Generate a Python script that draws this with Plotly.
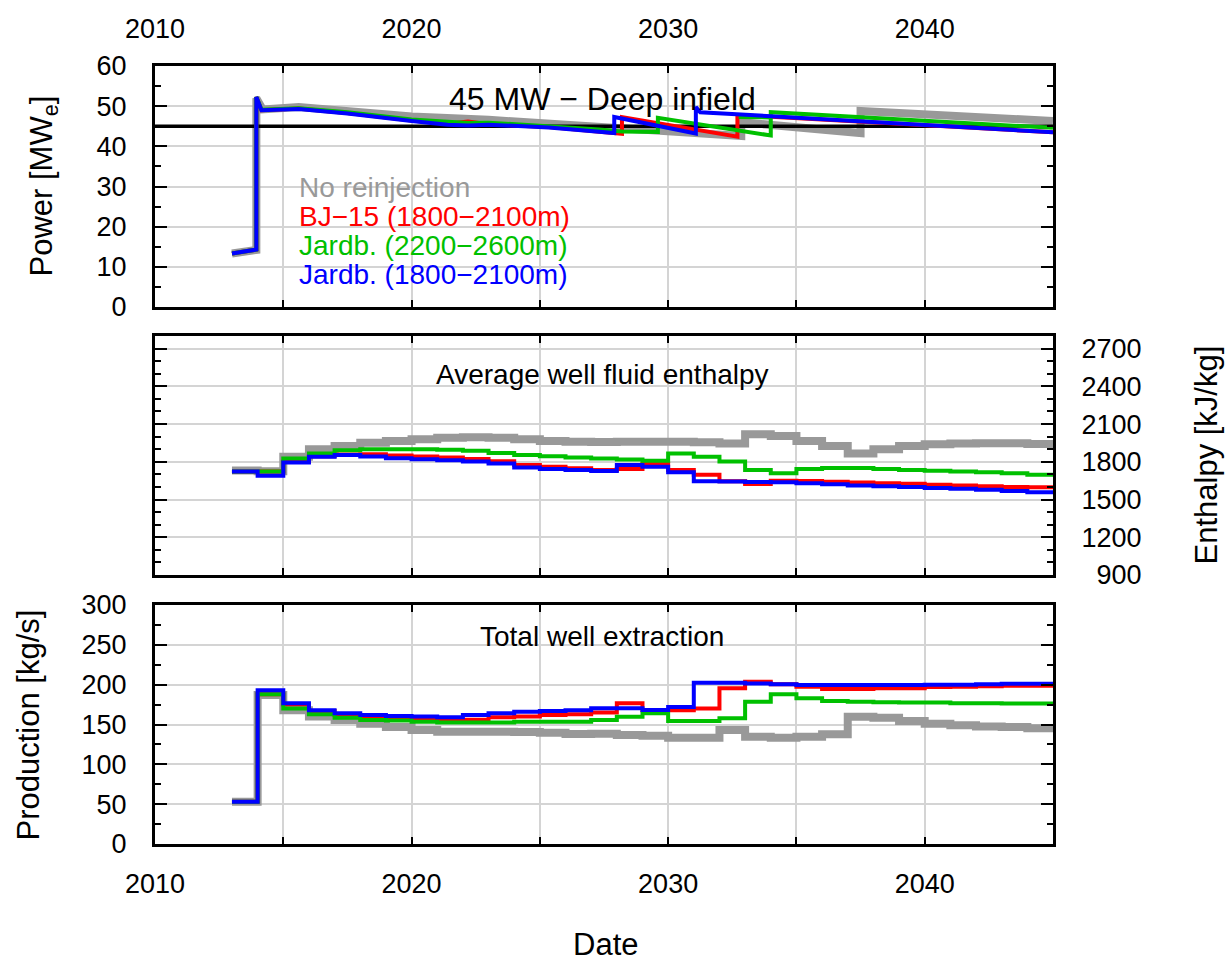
import plotly.graph_objects as go

# ---------------- data ----------------
X_RANGE = [2010, 2045]
X_TICKS = [2010, 2020, 2030, 2040]
X_MINOR_STEP = 5

TARGET_MW = 45

# Power (sloped lines, jumps when wells are added)
pw_gray_t = [2013.0, 2013.95, 2013.95, 2014.2, 2015.6, 2020.0, 2023.0, 2027.3, 2032.85, 2032.85, 2037.5, 2037.5, 2045.0]
pw_gray_v = [13.3, 14.2, 52.0, 49.2, 49.8, 47.4, 46.6, 44.8, 42.6, 46.0, 43.3, 48.8, 46.3]

pw_red_t = [2013.0, 2013.95, 2013.95, 2014.15, 2015.6, 2017.5, 2020.0, 2021.4, 2022.2, 2023.0, 2025.35, 2028.2, 2028.2, 2032.7, 2032.7, 2045.0]
pw_red_v = [13.3, 14.3, 52.3, 49.0, 49.4, 48.3, 46.4, 45.6, 46.2, 45.5, 44.8, 43.1, 47.3, 42.4, 47.8, 43.5]

pw_green_t = [2013.0, 2013.95, 2013.95, 2014.15, 2015.6, 2017.5, 2020.0, 2022.2, 2023.0, 2025.35, 2027.3, 2028.2, 2029.6, 2029.6, 2034.0, 2034.0, 2045.0, None, 2032.75, 2034.0]
pw_green_v = [13.3, 14.3, 52.3, 49.1, 49.5, 48.5, 46.7, 45.8, 45.9, 45.1, 44.2, 43.7, 43.6, 47.1, 42.7, 48.5, 44.6, None, 47.3, 47.2]

pw_blue_t = [2013.0, 2013.95, 2013.95, 2014.15, 2015.6, 2017.5, 2020.0, 2021.4, 2022.2, 2023.0, 2025.35, 2027.9, 2027.9, 2031.08, 2031.08, 2031.25, 2045.0]
pw_blue_v = [13.3, 14.3, 52.3, 49.0, 49.3, 48.2, 46.3, 45.4, 45.2, 45.4, 44.7, 43.3, 47.3, 43.2, 49.8, 48.5, 43.5]

# Annual steps (value holds from the given year to the next)
years = [2013, 2014, 2015, 2016, 2017, 2018, 2019, 2020, 2021, 2022, 2023,
         2024, 2025, 2026, 2027, 2028, 2029, 2030, 2031, 2032, 2033, 2034,
         2035, 2036, 2037, 2038, 2039, 2040, 2041, 2042, 2043, 2044, 2045]

# Average well fluid enthalpy [kJ/kg]
h_gray = [1730, 1725, 1840, 1900, 1926, 1952, 1966, 1979, 1992, 1996, 1992,
          1979, 1966, 1960, 1958, 1960, 1960, 1960, 1955, 1945, 2019, 2006,
          1966, 1926, 1866, 1900, 1926, 1939, 1945, 1947, 1947, 1942, 1942]
h_red = [1723, 1723, 1800, 1845, 1858, 1860, 1850, 1843, 1835, 1822, 1805,
         1775, 1760, 1748, 1734, 1742, 1782, 1734, 1697, 1645, 1624, 1650,
         1648, 1642, 1635, 1630, 1625, 1618, 1612, 1606, 1600, 1597, 1597]
h_green = [1723, 1723, 1826, 1866, 1892, 1900, 1900, 1900, 1895, 1887, 1870,
           1853, 1845, 1834, 1826, 1818, 1808, 1866, 1840, 1802, 1734, 1708,
           1742, 1750, 1750, 1742, 1734, 1729, 1723, 1716, 1708, 1697, 1697]
h_blue = [1723, 1690, 1795, 1840, 1853, 1842, 1829, 1821, 1813, 1802, 1787,
          1755, 1742, 1734, 1726, 1774, 1761, 1716, 1645, 1643, 1640, 1637,
          1630, 1622, 1611, 1605, 1600, 1592, 1585, 1577, 1568, 1558, 1558]

# Total well extraction [kg/s]
q_gray = [53, 187, 168, 160, 155.6, 151, 147, 143, 141, 141, 141,
          140.5, 139.6, 138, 138.5, 136.8, 136, 133.5, 133.5, 143, 134.7, 133.5,
          134.7, 137.7, 159.8, 158.6, 154.4, 151, 149, 147.5, 146.8, 145.2, 145.2]
q_red = [53, 188, 175, 167, 162, 159, 157.5, 156, 156, 156, 159,
         160, 162, 163, 165, 176.6, 168, 168, 170, 195.4, 203.7, 200.4,
         197.5, 194.6, 194.6, 195.5, 195.5, 197, 197.5, 198, 198.5, 198.7, 198.7]
q_green = [53, 188, 170, 163, 158.5, 155.6, 155, 153.5, 152.6, 152.6, 152.6,
           153.5, 153.5, 153.5, 155.6, 159.8, 164, 154.4, 154.4, 157.7, 178.6, 187.9,
           182.9, 179.5, 178.6, 178, 177.6, 177.6, 176.6, 176.6, 176.3, 176.3, 176.3]
q_blue = [53, 193, 176.6, 168, 164, 162, 160.7, 160, 159, 162, 164,
          166, 167, 168, 170.3, 170.3, 168.2, 172, 202.5, 202.5, 201.6, 200.4,
          199.6, 199.6, 199.6, 199.6, 199.6, 200, 200, 200.5, 201, 201, 201]

labels = ["No reinjection", "BJ\u221215 (1800\u22122100m)",
          "Jardb. (2200\u22122600m)", "Jardb. (1800\u22122100m)"]
colors = ["#999999", "#ff0000", "#00c000", "#0000ff"]
widths = [8, 4, 4, 4]

# ---------------- figure ----------------
FONT = "Liberation Sans, Arial, Helvetica, sans-serif"
W, H = 1230, 963
ML, MR, MT, MB = 155, 177, 66, 119
PW = W - ML - MR
PH = H - MT - MB


def px(x):
    return (x - ML) / PW


def py(y):
    return (H - MB - y) / PH


fig = go.Figure()

power = [(pw_gray_t, pw_gray_v), (pw_red_t, pw_red_v), (pw_green_t, pw_green_v), (pw_blue_t, pw_blue_v)]
enth = [h_gray, h_red, h_green, h_blue]
prod = [q_gray, q_red, q_green, q_blue]

for i in range(4):
    t, v = power[i]
    fig.add_trace(go.Scatter(x=t, y=v, mode="lines", xaxis="x", yaxis="y",
                             line=dict(color=colors[i], width=widths[i]),
                             showlegend=False, hoverinfo="skip"))
    if i == 0:
        fig.add_trace(go.Scatter(x=X_RANGE, y=[TARGET_MW, TARGET_MW], mode="lines",
                                 xaxis="x", yaxis="y",
                                 line=dict(color="black", width=3.5),
                                 showlegend=False, hoverinfo="skip"))

for i in range(4):
    fig.add_trace(go.Scatter(x=years, y=enth[i], mode="lines", xaxis="x2", yaxis="y2",
                             line=dict(color=colors[i], width=widths[i], shape="hv"),
                             showlegend=False, hoverinfo="skip"))

for i in range(4):
    fig.add_trace(go.Scatter(x=years, y=prod[i], mode="lines", xaxis="x3", yaxis="y3",
                             line=dict(color=colors[i], width=widths[i], shape="hv"),
                             showlegend=False, hoverinfo="skip"))

TICKFONT = dict(family=FONT, size=27, color="black")
GRID = "#d4d4d4"

common_x = dict(range=X_RANGE, tickmode="array", tickvals=X_TICKS,
                showgrid=True, gridcolor=GRID, gridwidth=2, zeroline=False,
                ticks="inside", ticklen=7, tickwidth=2, tickcolor="black",
                showline=True, linecolor="black", linewidth=3, mirror="ticks",
                tickfont=TICKFONT,
                minor=dict(tick0=X_RANGE[0], dtick=X_MINOR_STEP, ticklen=7, tickwidth=2,
                           tickcolor="black", ticks="inside", showgrid=True,
                           gridcolor=GRID, gridwidth=2))
common_y = dict(showgrid=True, gridcolor=GRID, gridwidth=2, zeroline=False,
                ticks="inside", ticklen=12, tickwidth=2, tickcolor="black",
                showline=True, linecolor="black", linewidth=3, mirror="ticks",
                tickfont=TICKFONT)

dom_top = [py(307), py(66)]
dom_mid = [py(575), py(336)]
dom_bot = [py(844), py(605)]

fig.update_layout(
    width=W, height=H,
    margin=dict(l=ML, r=MR, t=MT, b=MB),
    paper_bgcolor="white", plot_bgcolor="white",
    font=dict(family=FONT, color="black"),
    xaxis=dict(common_x, anchor="y", side="top", ticklabelstandoff=14),
    xaxis2=dict(common_x, anchor="y2", matches="x", showticklabels=False),
    xaxis3=dict(common_x, anchor="y3", matches="x", side="bottom", ticklabelstandoff=14),
    yaxis=dict(common_y, domain=dom_top, anchor="x", range=[0, 60],
               tickmode="array", tickvals=[0, 10, 20, 30, 40, 50, 60],
               minor=dict(dtick=5, ticklen=6, tickwidth=2, tickcolor="black", ticks="inside", showgrid=False),
               ticklabelstandoff=20),
    yaxis2=dict(common_y, domain=dom_mid, anchor="x2", range=[900, 2800], side="right",
                tickmode="array", tickvals=[900, 1200, 1500, 1800, 2100, 2400, 2700],
                ticktext=["\u2007900", "1200", "1500", "1800", "2100", "2400", "2700"],
                minor=dict(tick0=900, dtick=100, ticklen=6, tickwidth=2, tickcolor="black", ticks="inside", showgrid=False),
                ticklabelstandoff=20),
    yaxis3=dict(common_y, domain=dom_bot, anchor="x3", range=[0, 300],
                tickmode="array", tickvals=[0, 50, 100, 150, 200, 250, 300],
                minor=dict(dtick=25, ticklen=6, tickwidth=2, tickcolor="black", ticks="inside", showgrid=False),
                ticklabelstandoff=20),
)

ann = []
# panel titles
ann.append(dict(text="45 MW \u2212 Deep infield", x=px(602), y=py(99), font=dict(size=32)))
ann.append(dict(text="Average well fluid enthalpy", x=px(602), y=py(374), font=dict(size=28)))
ann.append(dict(text="Total well extraction", x=px(602), y=py(636), font=dict(size=28)))
# legend as coloured text
for i, (lab, yy) in enumerate(zip(labels, [187, 216, 245, 274])):
    ann.append(dict(text=lab, x=px(297), y=py(yy), xanchor="left",
                    font=dict(size=28, color=colors[i])))
# axis titles
ann.append(dict(text="Power [MW<sub>e</sub>]", x=px(44), y=py(186.5), textangle=-90, font=dict(size=31)))
ann.append(dict(text="Production [kg/s]", x=px(28), y=py(724.5), textangle=-90, font=dict(size=31)))
ann.append(dict(text="Enthalpy [kJ/kg]", x=px(1206), y=py(455.5), textangle=-90, font=dict(size=31)))
ann.append(dict(text="Date", x=px(605), y=py(944), font=dict(size=31)))

for a in ann:
    a.setdefault("xanchor", "center")
    a["yanchor"] = "middle"
    a["xref"] = "paper"
    a["yref"] = "paper"
    a["showarrow"] = False
    f = a.get("font", {})
    f.setdefault("color", "black")
    f["family"] = FONT
    a["font"] = f

fig.update_layout(annotations=ann)

fig.write_html("out.html")
